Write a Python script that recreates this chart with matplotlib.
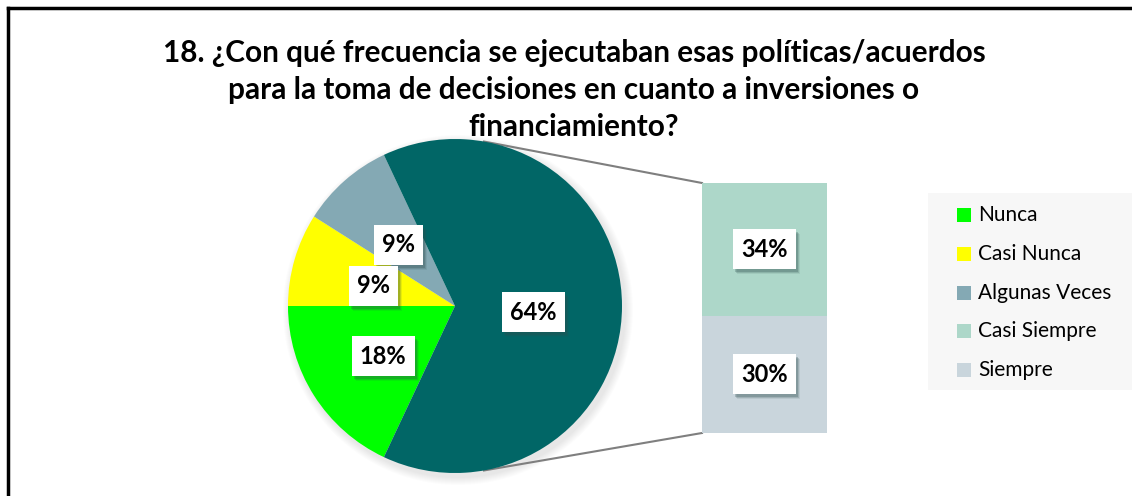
import matplotlib
matplotlib.use("Agg")
import matplotlib.pyplot as plt
from matplotlib.patches import Rectangle
from matplotlib.lines import Line2D
import numpy as np

plt.rcParams['font.family'] = ['Lato', 'DejaVu Sans']

# data
pie_labels = ['Nunca', 'Casi Nunca', 'Algunas Veces', 'Otros']
pie_values = [18, 9, 9, 64]
pie_colors = ['#00FF00', '#FFFF00', '#84A9B4', '#016666']

bar_labels = ['Siempre', 'Casi Siempre']
bar_values = [30, 34]
bar_colors = ['#C9D5DC', '#ADD7C9']

legend_labels = ['Nunca', 'Casi Nunca', 'Algunas Veces', 'Casi Siempre', 'Siempre']
legend_colors = ['#00FF00', '#FFFF00', '#84A9B4', '#ADD7C9', '#C9D5DC']

title = ("18. ¿Con qué frecuencia se ejecutaban esas políticas/acuerdos\n"
         "para la toma de decisiones en cuanto a inversiones o\n"
         "financiamiento?")

W, H = 1132, 496
fig = plt.figure(figsize=(W / 100, H / 100), dpi=100)
ax = fig.add_axes([0, 0, 1, 1])

# pie in pixel-like coordinates (y up)
cx, cy, r = 455, 190, 167
# soft shadow
for k in range(8):
    ax.add_patch(plt.Circle((cx + 3, cy - 4), r + 8 - k, color='#000000',
                            alpha=0.012, zorder=1, lw=0))
wedges, _ = ax.pie(pie_values, colors=pie_colors, startangle=244.8,
                   counterclock=False, center=(cx, cy), radius=r,
                   wedgeprops=dict(linewidth=0), frame=True)
for w in wedges:
    w.set_zorder(2)
ax.set_xlim(0, W)
ax.set_ylim(0, H)
ax.set_aspect('equal')
ax.axis('off')

# bar of the "other" slice
bx, bw, by0 = 764.5, 125, 63
scale = 250 / sum(bar_values)
bottoms = np.cumsum([0] + bar_values[:-1]) * scale + by0
heights = np.array(bar_values) * scale
ax.bar([bx] * len(bar_values), heights, width=bw, bottom=bottoms,
       color=bar_colors, linewidth=0, zorder=2)

# connector lines
top_bar = by0 + sum(bar_values) * scale
a = np.deg2rad(80)
ax.plot([cx + r * np.cos(a), bx - bw / 2], [cy + r * np.sin(a), top_bar],
        color='#7F7F7F', lw=1.5, zorder=1.5)
ax.plot([cx + r * np.cos(-a), bx - bw / 2], [cy - r * np.sin(a), by0],
        color='#7F7F7F', lw=1.5, zorder=1.5)


# data labels: white box with soft drop shadow
def label(x, y, txt):
    w = 49 if len(txt) == 2 else 63
    h = 40
    for dx, dy, al in [(4, -5, 0.10), (3, -4, 0.18), (2, -3, 0.25)]:
        ax.add_patch(Rectangle((x - w / 2 + dx, y - h / 2 + dy), w, h,
                               color='#2F4F4F', alpha=al, zorder=4, lw=0))
    ax.add_patch(Rectangle((x - w / 2, y - h / 2), w, h, color='white',
                           zorder=5, lw=0))
    ax.text(x, y, txt, ha='center', va='center', fontsize=17,
            fontweight='bold', color='black', zorder=6)


label_pos = [(383, 140), (373.5, 210.5), (398.5, 251), (533, 184)]
for (x, y), v in zip(label_pos, pie_values):
    label(x, y, f'{v}%')
bar_centers = bottoms + heights / 2
for yc, v in zip(bar_centers, bar_values):
    label(bx, yc, f'{v}%')

# title
fig.text(574 / W, 1 - 90 / H, title, ha='center', va='center',
         fontsize=21.4, fontweight='bold', linespacing=1.4)

# legend
ax.add_patch(Rectangle((928, H - 390), 220, 197, color='#F7F7F7',
                       zorder=1, lw=0, clip_on=False))
for i, (lab, col) in enumerate(zip(legend_labels, legend_colors)):
    yy = H - (215 + i * 38.8)
    ax.add_patch(Rectangle((957, yy - 7), 14, 14, color=col, zorder=3, lw=0))
    ax.text(978, yy, lab, ha='left', va='center', fontsize=15, zorder=3)

# chart border (top and left visible)
fig.add_artist(Line2D([8 / W, 8 / W], [0, 1 - 8 / H], color='black', lw=2.5))
fig.add_artist(Line2D([8 / W, 1], [1 - 8 / H, 1 - 8 / H], color='black', lw=2.5))

fig.savefig('out.png', dpi=100)
